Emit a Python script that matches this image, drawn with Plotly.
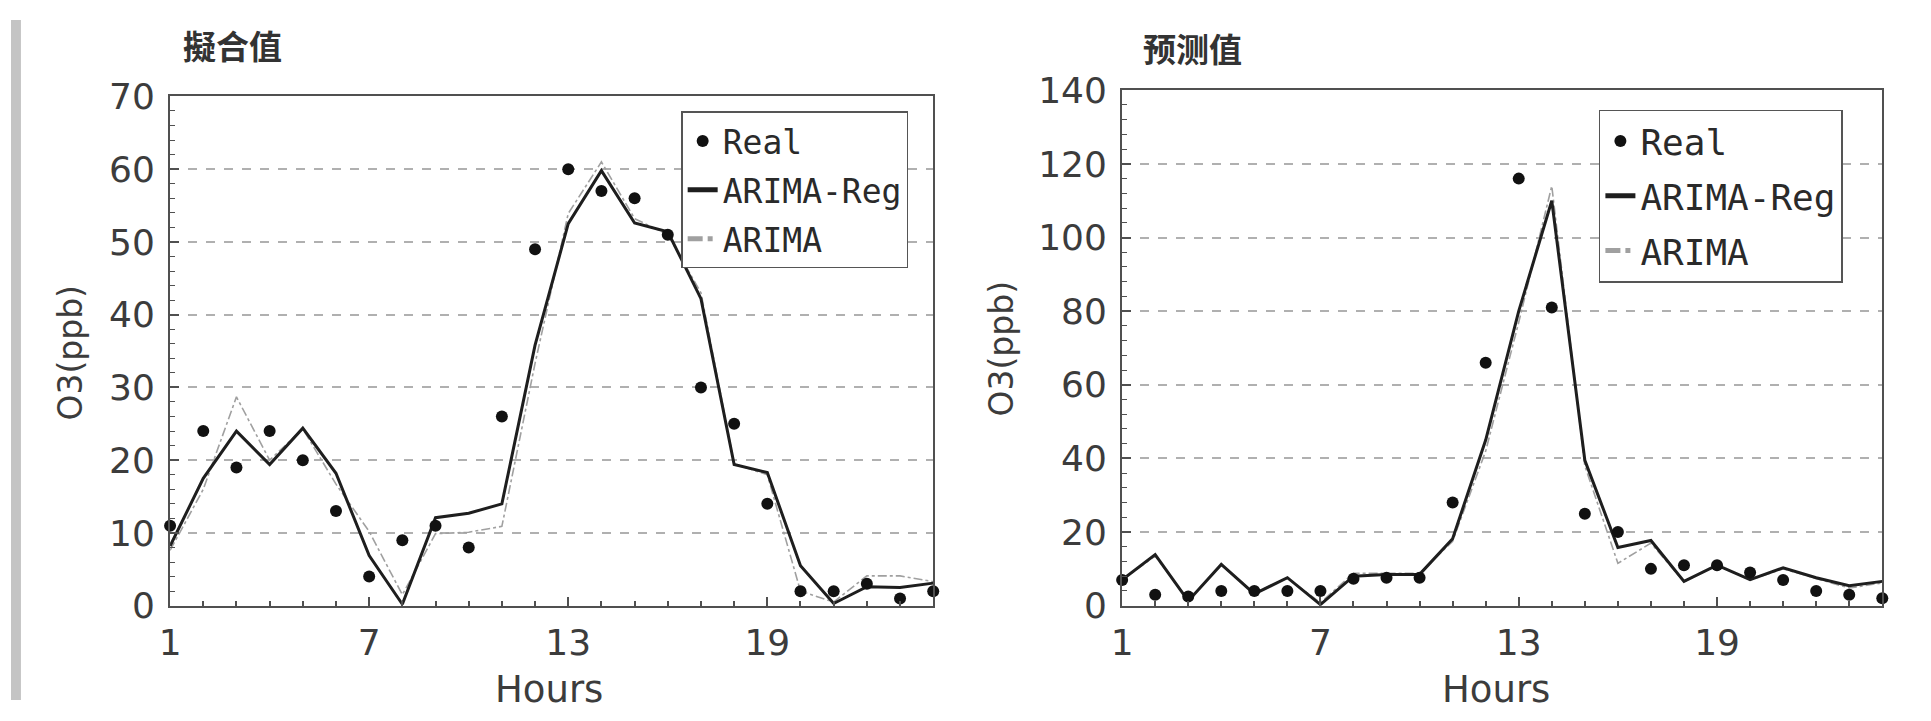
import plotly.graph_objects as go

hours = list(range(1, 25))

fit_real = [11, 24, 19, 24, 20, 13, 4, 9, 11, 8, 26, 49, 60, 57, 56, 51, 30, 25, 14, 2, 2, 3, 1, 2]
fit_reg = [8.2, 17.5, 24, 19.4, 24.4, 18.2, 6.9, 0.2, 12.1, 12.7, 14, 35.8, 52.5, 59.8, 52.6, 51.4,
           42.2, 19.4, 18.3, 5.5, 0.3, 2.6, 2.5, 3.1]
fit_arima = [7.6, 16, 28.7, 20, 24.3, 16.7, 10.2, 1.5, 9.9, 10.1, 10.9, 33.3, 53.9, 61, 53.2, 51,
             43, 19.5, 18, 2, 0.5, 4.1, 4.1, 3.3]

pred_real = [7, 3, 2.5, 4, 4, 4, 4, 7.3, 7.6, 7.6, 28, 66, 116, 81, 25, 20, 10, 11, 11, 9, 7, 4, 3, 2]
pred_reg = [7, 13.9, 1.3, 11.2, 3.2, 7.6, 0.3, 8, 8.5, 8.5, 18.2, 45, 80, 110, 39.5, 15.8,
            17.7, 6.6, 11, 7.1, 10.3, 7.6, 5.4, 6.6]
pred_arima = [7, 13.5, 1.5, 11, 3.5, 7.5, 0.8, 8.8, 8.8, 8.8, 17.5, 42, 77, 114, 38, 11.5,
              17, 6.5, 11, 7, 10, 7.5, 4.8, 6.2]

titles = ["擬合值", "预测值"]
y_title = "O3(ppb)"
x_title = "Hours"
series_names = ["Real", "ARIMA-Reg", "ARIMA"]

W, H = 1931, 721
TXT = "#3c3c3c"
AX = "#505050"
GRID = "#b0b0b0"
TICKFONT = dict(family="DejaVu Sans", size=36, color=TXT)


def px(x):
    return x / W


def py(y):
    return 1 - y / H


fig = go.Figure()

panels = [
    (fit_real, fit_reg, fit_arima, "x", "y", "legend", "a"),
    (pred_real, pred_reg, pred_arima, "x2", "y2", "legend2", "b"),
]
for real, reg, ar, xa, ya, lg, g in panels:
    fig.add_trace(go.Scatter(x=hours, y=ar, mode="lines", name=series_names[2],
                             line=dict(color="#a0a0a0", width=1.6, dash="dashdot"),
                             xaxis=xa, yaxis=ya, legend=lg, legendrank=3, legendgroup=g + "3",
                             cliponaxis=False))
    fig.add_trace(go.Scatter(x=hours, y=reg, mode="lines", name=series_names[1],
                             line=dict(color="#1e1e1e", width=3),
                             xaxis=xa, yaxis=ya, legend=lg, legendrank=2, legendgroup=g + "2",
                             cliponaxis=False))
    fig.add_trace(go.Scatter(x=hours, y=real, mode="markers", name=series_names[0],
                             marker=dict(color="#111111", size=12),
                             xaxis=xa, yaxis=ya, legend=lg, legendrank=1, legendgroup=g + "1",
                             cliponaxis=False))


def xaxis(domain, anchor):
    return dict(domain=domain, anchor=anchor, range=[1, 24], tickmode="linear", tick0=1, dtick=6,
                ticks="inside", ticklen=9, tickwidth=1.5, tickcolor=AX,
                minor=dict(tickmode="linear", tick0=1, dtick=1, ticks="inside", ticklen=5,
                           tickwidth=1.5, tickcolor=AX),
                showline=True, linecolor=AX, linewidth=2, mirror=True,
                showgrid=False, zeroline=False, tickfont=TICKFONT, ticklabelstandoff=4)


def yaxis(domain, anchor, rng, dt, mdt):
    return dict(domain=domain, anchor=anchor, range=rng, tickmode="linear", tick0=0, dtick=dt,
                ticks="inside", ticklen=9, tickwidth=1.5, tickcolor=AX,
                minor=dict(tickmode="linear", tick0=0, dtick=mdt, ticks="inside", ticklen=5,
                           tickwidth=1.2, tickcolor=AX),
                showline=True, linecolor=AX, linewidth=2, mirror=True,
                showgrid=True, gridcolor=GRID, gridwidth=1.5, griddash="dash",
                zeroline=False, tickfont=TICKFONT, ticklabelstandoff=6)


legend_common = dict(bgcolor="rgba(255,255,255,1)", bordercolor="#555555", borderwidth=1.5,
                     xanchor="left", yanchor="top", itemsizing="constant", itemwidth=30,
                     traceorder="grouped")

fig.update_layout(
    autosize=True,
    margin=dict(l=0, r=0, t=0, b=0, pad=0),
    paper_bgcolor="white", plot_bgcolor="white",
    xaxis=xaxis([px(160), px(927.5)], "y"),
    yaxis=yaxis([py(621), py(81)], "x", [0, 70], 10, 2),
    xaxis2=xaxis([px(1117.5), px(1882)], "y2"),
    yaxis2=yaxis([py(621), py(74.5)], "x2", [0, 140], 20, 4),
    legend=dict(x=px(674), y=py(97), tracegroupgap=3,
                font=dict(family="DejaVu Sans Mono", size=33, color="#2a2a2a"), **legend_common),
    legend2=dict(x=px(1597), y=py(95), tracegroupgap=5,
                 font=dict(family="DejaVu Sans Mono", size=36, color="#2a2a2a"), **legend_common),
    showlegend=True,
)

annotations = [
    dict(text=titles[0], x=px(223), y=py(27)),
    dict(text=titles[1], x=px(1188), y=py(30)),
]
for a in annotations:
    a.update(xref="paper", yref="paper", showarrow=False, xanchor="center", yanchor="middle",
             font=dict(family="Noto Sans CJK TC", size=33, color="#333333", weight="bold"))
    fig.add_annotation(**a)

for cx in (px(541), px(1494)):
    fig.add_annotation(text=x_title, x=cx, y=py(710), xref="paper", yref="paper", showarrow=False,
                       xanchor="center", yanchor="middle",
                       font=dict(family="DejaVu Sans", size=37, color=TXT))
for cx, cy in ((px(60), py(353)), (px(996), py(348))):
    fig.add_annotation(text=y_title, x=cx, y=cy, xref="paper", yref="paper", showarrow=False,
                       xanchor="center", yanchor="middle", textangle=-90,
                       font=dict(family="DejaVu Sans", size=33, color=TXT))

# scanned-page edge
fig.add_shape(type="rect", xref="paper", yref="paper", x0=0, x1=px(10), y0=0, y1=1,
              fillcolor="#c4c4c4", line=dict(width=0), layer="below")

post = (
    "var gd=document.getElementById('{plot_id}');"
    "var h=document.documentElement, b=document.body;"
    "h.style.margin='0';h.style.padding='0';h.style.height='100%';h.style.overflow='hidden';"
    "b.style.margin='0';b.style.padding='0';b.style.height='100%';b.style.overflow='hidden';"
    "var p=gd.parentElement; while(p && p!==b){p.style.height='100%';p.style.width='100%';"
    "p.style.margin='0';p=p.parentElement;}"
    "gd.style.width='100vw';gd.style.height='100vh';"
    "Plotly.Plots.resize(gd);"
)

fig.write_html(
    "out.html",
    default_width="100vw",
    default_height="100vh",
    config={"displayModeBar": False, "responsive": True},
    post_script=post,
)
